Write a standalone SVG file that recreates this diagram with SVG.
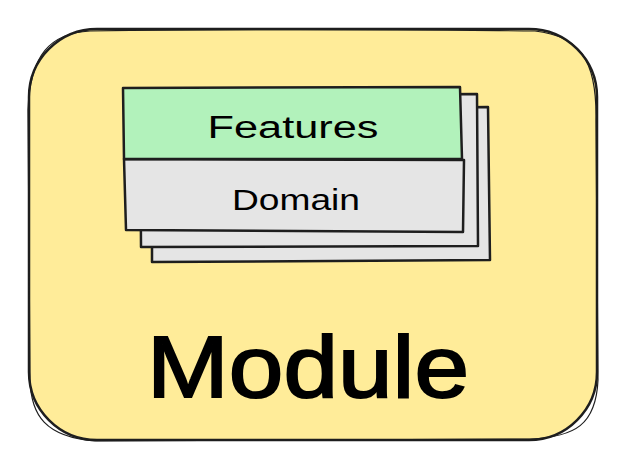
<svg xmlns="http://www.w3.org/2000/svg" width="620" height="470" viewBox="0 0 620 470">
<style>
.s{stroke:#1e1e1e;stroke-width:2.5;stroke-linejoin:round;stroke-linecap:round}
.t{font-family:"Liberation Sans",Arial,sans-serif;fill:#000000;text-anchor:middle}
</style>
<rect width="620" height="470" fill="#ffffff"/>
<g id="module">
<rect x="29" y="29" width="568" height="411" rx="68" fill="#ffec99" class="s"/>
<path d="M90 31 C300 28 430 30 535 31 C580 36 597 60 596 120 L598 380 C596 425 575 437 530 439 L95 441 C45 437 31 415 30 380 L28 110 C30 55 50 33 90 31" fill="none" stroke="#1e1e1e" stroke-width="1.2"/>
<text class="t" x="308" y="397" font-size="88" textLength="322" lengthAdjust="spacingAndGlyphs" stroke="#000000" stroke-width="2">Module</text>
</g>
<g id="layer3">
<path d="M152 111 L488 107 L490 260 L152 262 Z" fill="#e5e5e5" class="s"/>
</g>
<g id="layer2">
<path d="M140 96 L477 94 L478 246 L141 247 Z" fill="#e5e5e5" class="s"/>
</g>
<g id="domain">
<path d="M124 159 L464 160 L463 232 L126 230 Z" fill="#e5e5e5" class="s" stroke-width="3"/>
<text class="t" x="296" y="210" font-size="29" textLength="128" lengthAdjust="spacingAndGlyphs">Domain</text>
</g>
<g id="features">
<path d="M123 88 L460 87 L462 159 L124 159 Z" fill="#b2f2bb" class="s" stroke-width="3"/>
<text class="t" x="293" y="138" font-size="31" textLength="171" lengthAdjust="spacingAndGlyphs">Features</text>
</g>
<g id="connectors"></g>
</svg>
